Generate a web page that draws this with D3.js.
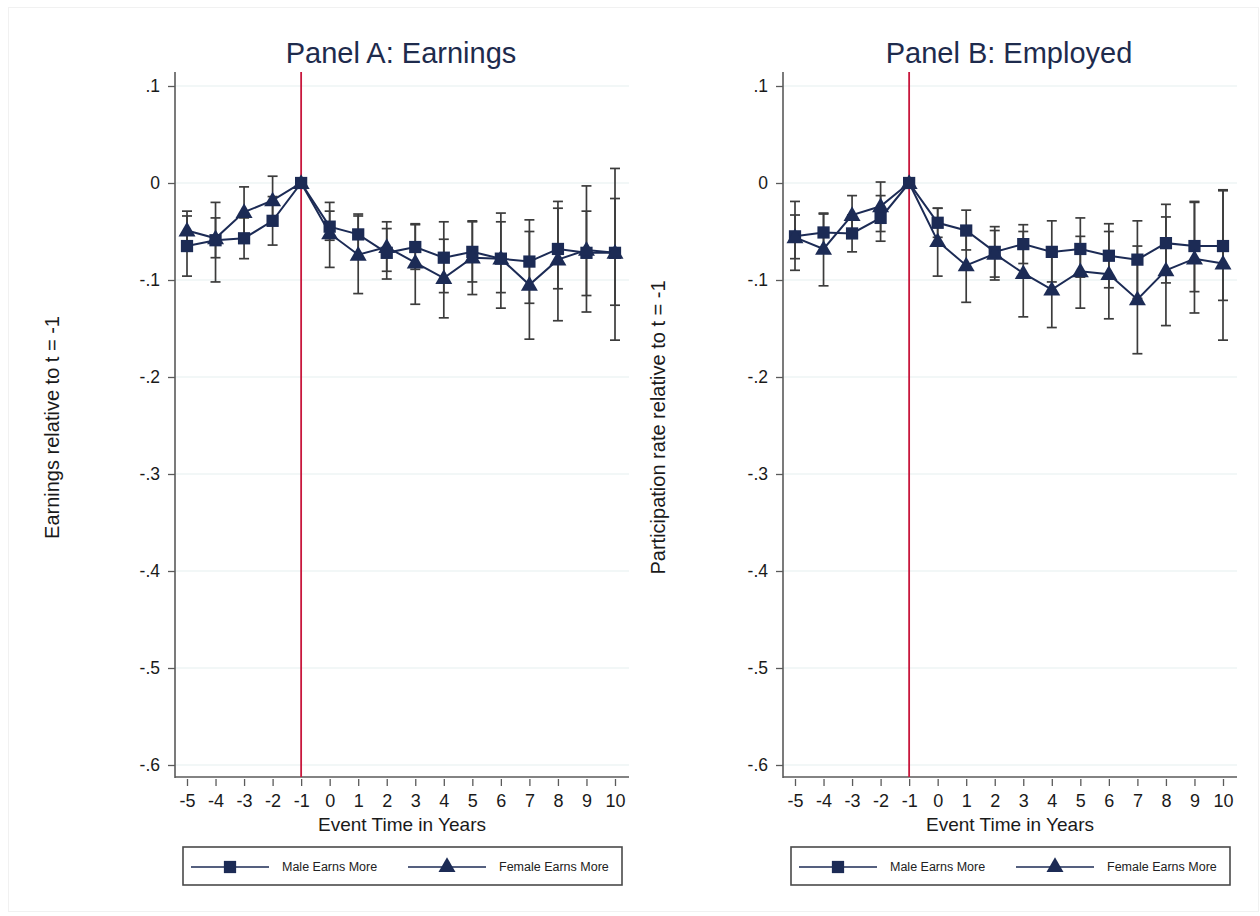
<!DOCTYPE html>
<html>
<head>
<meta charset="utf-8">
<script src="https://cdn.jsdelivr.net/npm/d3@7"></script>
<style>
  html, body { margin: 0; padding: 0; background: #fff; }
  svg { display: block; font-family: "Liberation Sans", Arial, sans-serif; }
</style>
</head>
<body>
<svg id="chart" width="1260" height="916"></svg>
<script>
// Event time (years relative to the event)
const years = [-5, -4, -3, -2, -1, 0, 1, 2, 3, 4, 5, 6, 7, 8, 9, 10];
const xTickLabels = ["-5", "-4", "-3", "-2", "-1", "0", "1", "2", "3", "4", "5", "6", "7", "8", "9", "10"];
const yTicks = [0.1, 0, -0.1, -0.2, -0.3, -0.4, -0.5, -0.6];
const yTickLabels = [".1", "0", "-.1", "-.2", "-.3", "-.4", "-.5", "-.6"];
const seriesNames = ["Male Earns More", "Female Earns More"];

// Panel A: earnings, point estimates and 95% CI bounds
const earnMale   = [-0.065, -0.059, -0.057, -0.039, 0, -0.045, -0.053, -0.072, -0.066, -0.077, -0.071, -0.078, -0.081, -0.068, -0.072, -0.072];
const earnMaleHi = [-0.034, -0.020, -0.036, -0.014, 0, -0.029, -0.032, -0.047, -0.043, -0.040, -0.039, -0.040, -0.038, -0.026, -0.029, -0.016];
const earnMaleLo = [-0.096, -0.102, -0.078, -0.064, 0, -0.059, -0.075, -0.099, -0.089, -0.113, -0.102, -0.113, -0.124, -0.109, -0.116, -0.126];
const earnFem    = [-0.049, -0.057, -0.030, -0.018, 0, -0.052, -0.074, -0.066, -0.082, -0.098, -0.077, -0.078, -0.105, -0.079, -0.069, -0.072];
const earnFemHi  = [-0.029, -0.036, -0.004, 0.007, 0, -0.020, -0.034, -0.040, -0.042, -0.058, -0.040, -0.031, -0.050, -0.019, -0.003, 0.015];
const earnFemLo  = [-0.069, -0.077, -0.056, -0.043, 0, -0.087, -0.114, -0.091, -0.125, -0.139, -0.115, -0.129, -0.161, -0.142, -0.133, -0.162];

// Panel B: employment, point estimates and 95% CI bounds
const empMale    = [-0.055, -0.051, -0.052, -0.036, 0, -0.041, -0.049, -0.071, -0.063, -0.071, -0.068, -0.075, -0.079, -0.062, -0.065, -0.065];
const empMaleHi  = [-0.019, -0.031, -0.033, -0.013, 0, -0.026, -0.028, -0.045, -0.043, -0.039, -0.036, -0.042, -0.039, -0.022, -0.020, -0.008];
const empMaleLo  = [-0.090, -0.071, -0.071, -0.060, 0, -0.056, -0.069, -0.097, -0.083, -0.102, -0.097, -0.108, -0.119, -0.103, -0.112, -0.121];
const empFem     = [-0.056, -0.068, -0.033, -0.024, 0, -0.060, -0.085, -0.073, -0.093, -0.110, -0.091, -0.094, -0.120, -0.090, -0.078, -0.083];
const empFemHi   = [-0.033, -0.032, -0.013, 0.001, 0, -0.026, -0.046, -0.049, -0.050, -0.071, -0.055, -0.050, -0.065, -0.035, -0.019, -0.007];
const empFemLo   = [-0.078, -0.106, -0.053, -0.050, 0, -0.096, -0.123, -0.100, -0.138, -0.149, -0.129, -0.140, -0.176, -0.147, -0.134, -0.162];

const panels = [
  { title: "Panel A: Earnings", ylabel: "Earnings relative to t = -1", left: 175, ylabelX: 52,
    male: earnMale, maleLo: earnMaleLo, maleHi: earnMaleHi, fem: earnFem, femLo: earnFemLo, femHi: earnFemHi },
  { title: "Panel B: Employed", ylabel: "Participation rate relative to t = -1", left: 783, ylabelX: 658,
    male: empMale, maleLo: empMaleLo, maleHi: empMaleHi, fem: empFem, femLo: empFemLo, femHi: empFemHi }
];

const navy = "#1c2b55";
const ciColor = "#3c3c3c";
const axisColor = "#5a5a5a";
const textColor = "#1a1a1a";

const svg = d3.select("#chart");

// faint outer frame of the graph region
svg.append("rect").attr("x", 8.5).attr("y", 7.5).attr("width", 1250).attr("height", 904)
  .attr("fill", "none").attr("stroke", "#f1f1f1").attr("stroke-width", 1);

const plotTop = 72, plotBottom = 777, plotWidth = 454;

panels.forEach(p => {
  const g = svg.append("g");
  const x = d3.scaleLinear().domain([-5, 10]).range([p.left + 12, p.left + 440]);
  const y = d3.scaleLinear().domain([-0.6, 0.1]).range([765, 86]);
  const right = p.left + plotWidth;

  // horizontal grid lines
  g.selectAll(".grid").data(yTicks).join("line")
    .attr("x1", p.left).attr("x2", right)
    .attr("y1", d => y(d)).attr("y2", d => y(d))
    .attr("stroke", "#e6eff0").attr("stroke-width", 1.2);

  // y axis
  const yAxis = d3.axisLeft(y).tickValues(yTicks)
    .tickFormat((d, i) => yTickLabels[i]).tickSize(7).tickPadding(8);
  const ya = g.append("g").attr("transform", `translate(${p.left},0)`).call(yAxis);
  ya.select(".domain").remove();
  ya.selectAll(".tick line").attr("stroke", axisColor).attr("stroke-width", 1.3);
  ya.selectAll(".tick text").attr("fill", textColor).style("font-size", "17.5px")
    .style("font-family", "Liberation Sans, Arial, sans-serif");
  g.append("line").attr("x1", p.left).attr("x2", p.left).attr("y1", plotTop).attr("y2", plotBottom + 1)
    .attr("stroke", axisColor).attr("stroke-width", 1.6);

  // x axis
  const xAxis = d3.axisBottom(x).tickValues(years)
    .tickFormat((d, i) => xTickLabels[i]).tickSize(7).tickPadding(8);
  const xa = g.append("g").attr("transform", `translate(0,${plotBottom + 2})`).call(xAxis);
  xa.select(".domain").remove();
  xa.selectAll(".tick line").attr("stroke", axisColor).attr("stroke-width", 1.3);
  xa.selectAll(".tick text").attr("fill", textColor).style("font-size", "18px")
    .style("font-family", "Liberation Sans, Arial, sans-serif");
  g.append("line").attr("x1", p.left).attr("x2", right).attr("y1", plotBottom).attr("y2", plotBottom)
    .attr("stroke", axisColor).attr("stroke-width", 1.6);

  // reference line at t = -1
  g.append("line").attr("x1", x(-1)).attr("x2", x(-1)).attr("y1", plotTop).attr("y2", plotBottom)
    .attr("stroke", "#c8173c").attr("stroke-width", 1.8);

  // titles
  g.append("text").attr("x", (p.left + right) / 2 - 1).attr("y", 63)
    .attr("text-anchor", "middle").attr("fill", "#1e2b4d").style("font-size", "29px")
    .text(p.title);
  g.append("text").attr("x", (p.left + right) / 2).attr("y", 831)
    .attr("text-anchor", "middle").attr("fill", textColor).style("font-size", "19px")
    .text("Event Time in Years");
  g.append("text")
    .attr("transform", `translate(${p.ylabelX},${(plotTop + plotBottom) / 2 + 3}) rotate(-90)`)
    .attr("text-anchor", "middle").attr("dy", "0.35em").attr("fill", textColor).style("font-size", "20px")
    .text(p.ylabel);

  // confidence intervals
  const series = [
    { v: p.male, lo: p.maleLo, hi: p.maleHi, shape: d3.symbolSquare, size: 150 },
    { v: p.fem,  lo: p.femLo,  hi: p.femHi,  shape: d3.symbolTriangle, size: 125 }
  ];
  series.forEach(s => {
    const ci = years.map((t, i) => ({ t, lo: s.lo[i], hi: s.hi[i] })).filter(d => d.lo !== d.hi);
    const cg = g.append("g").attr("stroke", ciColor).attr("stroke-width", 1.7);
    cg.selectAll(".stem").data(ci).join("line")
      .attr("x1", d => x(d.t)).attr("x2", d => x(d.t)).attr("y1", d => y(d.lo)).attr("y2", d => y(d.hi));
    cg.selectAll(".capLo").data(ci).join("line")
      .attr("x1", d => x(d.t) - 5).attr("x2", d => x(d.t) + 5).attr("y1", d => y(d.lo)).attr("y2", d => y(d.lo));
    cg.selectAll(".capHi").data(ci).join("line")
      .attr("x1", d => x(d.t) - 5).attr("x2", d => x(d.t) + 5).attr("y1", d => y(d.hi)).attr("y2", d => y(d.hi));
  });

  // connected estimates
  const line = d3.line().x((d, i) => x(years[i])).y(d => y(d));
  series.forEach(s => {
    g.append("path").datum(s.v).attr("d", line)
      .attr("fill", "none").attr("stroke", navy).attr("stroke-width", 2);
    g.selectAll(null).data(s.v).join("path")
      .attr("transform", (d, i) => `translate(${x(years[i])},${y(d) + (s.shape === d3.symbolTriangle ? 1 : 0)})`)
      .attr("d", d3.symbol().type(s.shape).size(s.size))
      .attr("fill", navy);
  });

  // legend
  const lg = g.append("g");
  const lx = p.left + 8, ly = 847;
  lg.append("rect").attr("x", lx).attr("y", ly).attr("width", 439).attr("height", 38)
    .attr("fill", "#fff").attr("stroke", "#4a4a4a").attr("stroke-width", 1.6);
  const items = [
    { name: seriesNames[0], shape: d3.symbolSquare, size: 150, x0: lx + 8 },
    { name: seriesNames[1], shape: d3.symbolTriangle, size: 125, x0: lx + 225 }
  ];
  items.forEach(it => {
    const cy = ly + 20;
    lg.append("line").attr("x1", it.x0).attr("x2", it.x0 + 78).attr("y1", cy).attr("y2", cy)
      .attr("stroke", navy).attr("stroke-width", 1.6);
    lg.append("path").attr("transform", `translate(${it.x0 + 39},${cy})`)
      .attr("d", d3.symbol().type(it.shape).size(it.size)).attr("fill", navy);
    lg.append("text").attr("x", it.x0 + 91).attr("y", cy).attr("dy", "0.35em")
      .attr("fill", "#222").style("font-size", "12.5px").text(it.name);
  });
});
</script>
</body>
</html>
